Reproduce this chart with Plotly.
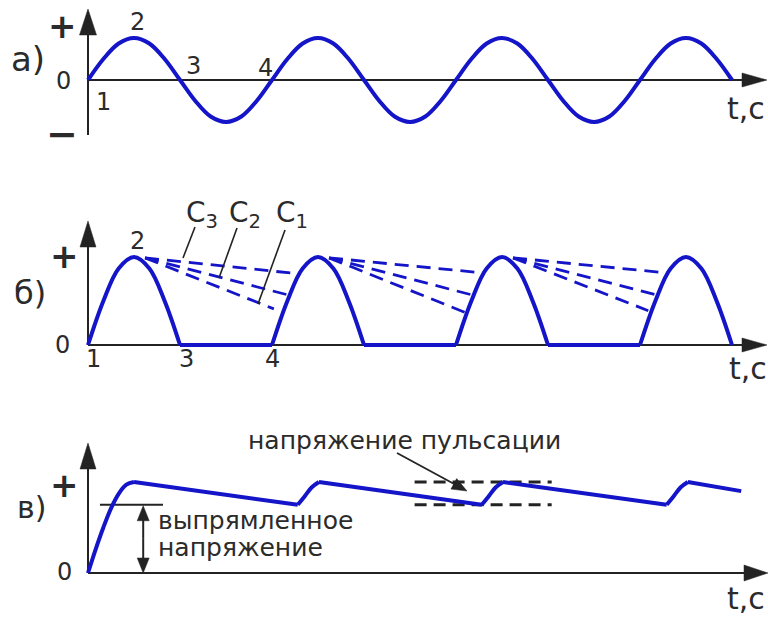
import plotly.graph_objects as go

W, H = 768, 618
X0, PXT = 88.0, 92.0          # pixel of t=0 and pixels per half-period
BLUE = "#1414c8"
INK = "#232323"
TXT = "#2b2b2b"
FONT = "DejaVu Sans"

# ---------------- data (time in half-periods, voltage in units of the peak) ----------------
# а) input alternating voltage
t_a = [0.0, 0.167, 0.333, 0.5, 0.667, 0.833, 1.0, 1.167, 1.333, 1.5, 1.667, 1.833,
       2.0, 2.167, 2.333, 2.5, 2.667, 2.833, 3.0, 3.167, 3.333, 3.5, 3.667, 3.833,
       4.0, 4.167, 4.333, 4.5, 4.667, 4.833, 5.0, 5.167, 5.333, 5.5, 5.667, 5.833,
       6.0, 6.167, 6.333, 6.5, 6.667, 6.833, 7.0]
v_a = [0, 0.5, 0.87, 1.0, 0.87, 0.5, 0, -0.5, -0.87, -1.0, -0.87, -0.5,
       0, 0.5, 0.87, 1.0, 0.87, 0.5, 0, -0.5, -0.87, -1.0, -0.87, -0.5,
       0, 0.5, 0.87, 1.0, 0.87, 0.5, 0, -0.5, -0.87, -1.0, -0.87, -0.5,
       0, 0.5, 0.87, 1.0, 0.87, 0.5, 0]

# б) half-wave rectified pulses
t_b = [0.0, 0.167, 0.333, 0.5, 0.667, 0.833, 1.0, None,
       2.0, 2.167, 2.333, 2.5, 2.667, 2.833, 3.0, None,
       4.0, 4.167, 4.333, 4.5, 4.667, 4.833, 5.0, None,
       6.0, 6.167, 6.333, 6.5, 6.667, 6.833, 7.0]
v_b = [0, 0.5, 0.87, 1.0, 0.87, 0.5, 0, None,
       0, 0.5, 0.87, 1.0, 0.87, 0.5, 0, None,
       0, 0.5, 0.87, 1.0, 0.87, 0.5, 0, None,
       0, 0.5, 0.87, 1.0, 0.87, 0.5, 0]
t_b_flat = [1.0, 2.0, None, 3.0, 4.0, None, 5.0, 6.0]
v_b_flat = [0, 0, None, 0, 0, None, 0, 0]

# capacitor discharge lines (C3 > C2 > C1)
c3_t = [0.62, 2.28, None, 2.62, 4.29, None, 4.62, 6.29]
c3_v = [0.99, 0.81, None, 0.99, 0.82, None, 0.99, 0.82]
c2_t = [0.62, 2.17, None, 2.62, 4.17, None, 4.62, 6.18]
c2_v = [0.99, 0.57, None, 0.99, 0.57, None, 0.99, 0.57]
c1_t = [0.62, 2.02, None, 2.62, 4.10, None, 4.62, 6.09]
c1_v = [0.99, 0.41, None, 0.99, 0.37, None, 0.99, 0.39]

# в) smoothed (filtered) voltage
rise_t = [0.0, 0.083, 0.167, 0.25, 0.333, 0.417, 0.5, None,
          2.28, 2.36, 2.43, 2.51, None,
          4.28, 4.36, 4.43, 4.51, None,
          6.29, 6.37, 6.44, 6.52]
rise_v = [0, 0.26, 0.5, 0.71, 0.87, 0.97, 1.0, None,
          0.75, 0.85, 0.94, 1.0, None,
          0.75, 0.85, 0.94, 1.0, None,
          0.75, 0.85, 0.94, 1.0]
fall_t = [0.5, 2.28, None, 2.51, 4.28, None, 4.51, 6.29, None, 6.52, 7.1]
fall_v = [1.0, 0.75, None, 1.0, 0.75, None, 1.0, 0.75, None, 1.0, 0.9]

rectified_level = 0.75
rectified_t = [0.13, 0.815]
ripple_top, ripple_bottom = 1.0, 0.75
ripple_t = [3.55, 5.04]

# ---------------- geometry ----------------
PANELS = {
    "a": dict(zero=80.0, unit=42.0, top=0.0, bot=165.0, ax="y", name="yaxis"),
    "b": dict(zero=345.0, unit=88.0, top=170.0, bot=390.0, ax="y2", name="yaxis2"),
    "c": dict(zero=573.0, unit=91.0, top=395.0, bot=618.0, ax="y3", name="yaxis3"),
}


def px_x(t):
    return X0 + PXT * t


def px_y(p, v):
    return PANELS[p]["zero"] - PANELS[p]["unit"] * v


def pap(x, y):
    return x / W, 1 - y / H


fig = go.Figure()


def add_line(p, xs, ys, color, width, dash=None, shape="linear"):
    fig.add_trace(go.Scatter(
        x=xs, y=ys, mode="lines", xaxis="x", yaxis=PANELS[p]["ax"],
        line=dict(color=color, width=width, dash=dash, shape=shape),
        connectgaps=False, hoverinfo="skip", showlegend=False))


# а
add_line("a", t_a, v_a, BLUE, 4, shape="spline")
# б
add_line("b", c3_t, c3_v, BLUE, 2.8, dash="14px,8px")
add_line("b", c2_t, c2_v, BLUE, 2.8, dash="14px,8px")
add_line("b", c1_t, c1_v, BLUE, 2.8, dash="14px,8px")
add_line("b", t_b_flat, v_b_flat, BLUE, 4)
add_line("b", t_b, v_b, BLUE, 4, shape="spline")
# в
add_line("c", ripple_t, [ripple_top] * 2, INK, 3, dash="12px,7px")
add_line("c", ripple_t, [ripple_bottom] * 2, INK, 3, dash="12px,7px")
add_line("c", rectified_t, [rectified_level] * 2, INK, 2)
add_line("c", fall_t, fall_v, BLUE, 4)
add_line("c", rise_t, rise_v, BLUE, 4, shape="spline")

shapes = []
annotations = []


def seg(x0, y0, x1, y1, color=INK, width=2, layer="below"):
    a = pap(x0, y0)
    b = pap(x1, y1)
    shapes.append(dict(type="line", xref="paper", yref="paper", x0=a[0], y0=a[1],
                       x1=b[0], y1=b[1], line=dict(color=color, width=width), layer=layer))


def tri(tx, ty, dx, dy, length, width, color=INK, layer="below"):
    n = (dx * dx + dy * dy) ** 0.5
    ux, uy = dx / n, dy / n
    bx, by = tx - ux * length, ty - uy * length
    nx, ny = -uy, ux
    pts = [(tx, ty), (bx + nx * width / 2, by + ny * width / 2),
           (bx - nx * width / 2, by - ny * width / 2)]
    path = "M " + " L ".join("%.5f,%.5f" % pap(x, y) for x, y in pts) + " Z"
    shapes.append(dict(type="path", xref="paper", yref="paper", path=path,
                       fillcolor=color, line=dict(color=color, width=0.5), layer=layer))


def arrow(x0, y0, x1, y1, length, width, lw=2, layer="below"):
    dx, dy = x1 - x0, y1 - y0
    n = (dx * dx + dy * dy) ** 0.5
    seg(x0, y0, x1 - dx / n * (length - 2), y1 - dy / n * (length - 2), width=lw, layer=layer)
    tri(x1, y1, dx, dy, length, width, layer=layer)


AX_X = px_x(0)
X_TIP = 767.0
# axes of panel а
arrow(AX_X, 135.0, AX_X, 9.0, 26, 17)
arrow(AX_X, px_y("a", 0), X_TIP, px_y("a", 0), 25, 14)
# axes of panel б
arrow(AX_X, px_y("b", 0), AX_X, 221.0, 26, 16)
arrow(AX_X, px_y("b", 0), X_TIP, px_y("b", 0), 25, 14)
# axes of panel в
arrow(AX_X, px_y("c", 0), AX_X, 443.0, 26, 16)
arrow(AX_X, px_y("c", 0), 768.0, px_y("c", 0), 24, 16)

# rectified voltage double arrow
ax_ = px_x(0.6)
mid_ = (px_y("c", rectified_level) + px_y("c", 0)) / 2
arrow(ax_, mid_, ax_, px_y("c", rectified_level) + 1, 15, 12, layer="above")
arrow(ax_, mid_, ax_, px_y("c", 0), 15, 12, layer="above")
# ripple pointer
arrow(397, 453, 467, 491, 15, 12, lw=1.8, layer="above")

# C leaders
seg(195, 227, 183, 258, width=1.6, layer="above")
seg(237, 228, 219, 278, width=1.6, layer="above")
seg(285, 230, 258, 304, width=1.6, layer="above")


def label(text, x, y, size, anchor="center", weight="normal", color=TXT):
    px, py = pap(x, y)
    annotations.append(dict(text=text, x=px, y=py, xref="paper", yref="paper",
                            xanchor=anchor, yanchor="middle", showarrow=False,
                            font=dict(family=FONT, size=size, color=color, weight=weight)))


# panel а
label("а)", 28, 59, 34)
label("+", 62, 26, 34, weight="bold")
label("−", 62, 134, 38, weight="bold")
label("0", 63, 81, 24)
label("1", 103, 102, 24)
label("2", 137, 22, 24)
label("3", 193, 66, 24)
label("4", 265, 68, 24)
label("t,c", 746, 108, 30)
# panel б
label("б)", 30, 293, 32)
label("+", 64, 256, 34, weight="bold")
label("0", 62, 345, 24)
label("1", 93, 359, 24)
label("2", 137, 241, 24)
label("3", 186, 359, 24)
label("4", 272, 359, 24)
label("t,c", 748, 368, 30)
label("C<sub>3</sub>", 184, 215, 28, anchor="left")
label("C<sub>2</sub>", 227, 215, 28, anchor="left")
label("C<sub>1</sub>", 274, 215, 28, anchor="left")
# panel в
label("в)", 31, 507, 30)
label("+", 64, 485, 34, weight="bold")
label("0", 64, 572, 24)
label("t,c", 746, 598, 30)
label("выпрямленное", 156, 520, 25, anchor="left")
label("напряжение", 156, 547, 25, anchor="left")
label("напряжение пульсации", 404, 440, 25)

layout_axes = {}
for key, p in PANELS.items():
    layout_axes[p["name"]] = dict(
        domain=[1 - p["bot"] / H, 1 - p["top"] / H],
        range=[(p["zero"] - p["bot"]) / p["unit"], (p["zero"] - p["top"]) / p["unit"]],
        visible=False, anchor="x", fixedrange=True)

fig.update_layout(
    width=W, height=H, margin=dict(l=0, r=0, t=0, b=0),
    paper_bgcolor="white", plot_bgcolor="white",
    xaxis=dict(domain=[0, 1], range=[-X0 / PXT, (W - X0) / PXT], visible=False,
               anchor="y", fixedrange=True),
    shapes=shapes, annotations=annotations, showlegend=False,
    **layout_axes,
)

fig.write_html("out.html")
